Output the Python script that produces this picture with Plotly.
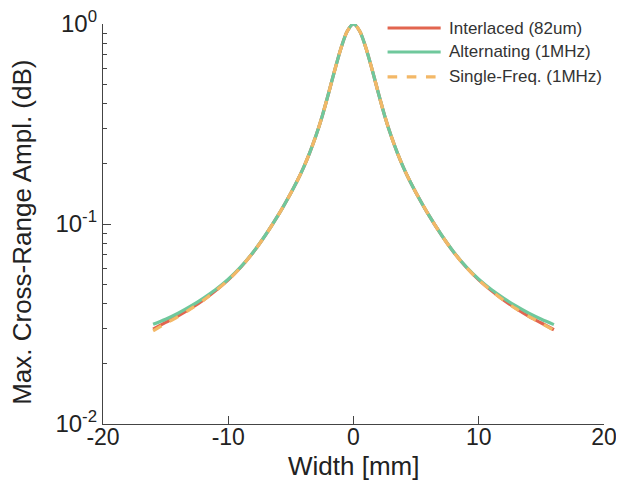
import plotly.graph_objects as go

# datos (ancho en mm, amplitud normalizada)
ancho = [-16, -15, -14, -13, -12, -11, -10, -9, -8, -7, -6, -5, -4.5, -4, -3.5, -3, -2.5, -2, -1.5, -1, -0.5,
         0, 0.5, 1, 1.5, 2, 2.5, 3, 3.5, 4, 4.5, 5, 6, 7, 8, 9, 10, 11, 12, 13, 14, 15, 16]

interlaced = [0.0298, 0.0322, 0.0347, 0.0378, 0.0416, 0.0465, 0.0526, 0.0608, 0.0723, 0.0885, 0.111, 0.143,
              0.164, 0.191, 0.227, 0.276, 0.346, 0.448, 0.587, 0.757, 0.920,
              1.0, 0.920, 0.757, 0.587, 0.448, 0.346, 0.276, 0.227, 0.191, 0.164, 0.143,
              0.111, 0.0885, 0.0723, 0.0608, 0.0526, 0.0465, 0.0416, 0.0377, 0.0345, 0.0320, 0.0296]

alternating = [0.0315, 0.0334, 0.0358, 0.0388, 0.0425, 0.0470, 0.0529, 0.0610, 0.0724, 0.0886, 0.111, 0.143,
               0.164, 0.191, 0.227, 0.276, 0.346, 0.448, 0.587, 0.757, 0.920,
               1.0, 0.920, 0.757, 0.587, 0.448, 0.346, 0.276, 0.227, 0.191, 0.164, 0.143,
               0.111, 0.0886, 0.0724, 0.0610, 0.0529, 0.0470, 0.0425, 0.0388, 0.0358, 0.0334, 0.0314]

single_freq = [0.0292, 0.0318, 0.0344, 0.0376, 0.0415, 0.0464, 0.0525, 0.0607, 0.0722, 0.0885, 0.111, 0.143,
               0.164, 0.191, 0.227, 0.276, 0.346, 0.448, 0.587, 0.757, 0.920,
               1.0, 0.920, 0.757, 0.587, 0.448, 0.346, 0.276, 0.227, 0.191, 0.164, 0.143,
               0.111, 0.0885, 0.0722, 0.0607, 0.0525, 0.0464, 0.0415, 0.0376, 0.0345, 0.0319, 0.0294]

series = [
    ("Interlaced (82um)", interlaced, "#E2654F", "solid"),
    ("Alternating (1MHz)", alternating, "#6FC89C", "solid"),
    ("Single-Freq. (1MHz)", single_freq, "#F3B867", "dash"),
]

x_ticks = [-20, -10, 0, 10, 20]
x_ticktext = ["-20", "-10", "0", "10", "20"]
y_ticks = [1, 0.1, 0.01]
y_ticktext = ["10<sup>0</sup>", "10<sup>-1</sup>", "10<sup>-2</sup>"]
y_minor = [0.02, 0.03, 0.04, 0.05, 0.06, 0.07, 0.08, 0.09, 0.2, 0.3, 0.4, 0.5, 0.6, 0.7, 0.8, 0.9]

fig = go.Figure()

for nombre, valores, color, estilo in series:
    fig.add_trace(go.Scatter(
        x=ancho, y=valores, mode="lines", name=nombre,
        line=dict(color=color, width=3.2, dash=estilo, shape="spline", smoothing=0.8),
        cliponaxis=False, showlegend=False,
    ))

# leyenda manual (lineas largas como en la original)
leg_y = [0.99, 0.93, 0.868]
for (nombre, valores, color, estilo), yy in zip(series, leg_y):
    fig.add_shape(type="line", xref="paper", yref="paper",
                  x0=0.568, x1=0.674, y0=yy, y1=yy,
                  line=dict(color=color, width=3.2, dash="dash" if estilo == "dash" else "solid"))
    fig.add_annotation(x=0.686, y=yy, xref="paper", yref="paper", text=nombre,
                       showarrow=False, xanchor="left", yanchor="middle",
                       font=dict(size=17, color="#333333"))

# titulos de ejes como anotaciones para controlar la posicion
fig.add_annotation(x=0.5, y=-0.105, xref="paper", yref="paper", text="Width [mm]",
                   showarrow=False, xanchor="center", yanchor="middle",
                   font=dict(size=26, color="#222222"))
fig.add_annotation(x=-0.162, y=0.48, xref="paper", yref="paper", text="Max. Cross-Range Ampl. (dB)",
                   showarrow=False, xanchor="center", yanchor="middle", textangle=-90,
                   font=dict(size=26, color="#222222"))

eje = dict(showline=True, linecolor="#444444", linewidth=1.4, ticks="inside",
           tickcolor="#444444", showgrid=False, zeroline=False, mirror=False, automargin=False,
           ticklabeloverflow="allow")

fig.update_xaxes(
    **eje, range=[-20, 20], tickvals=x_ticks, ticktext=x_ticktext, ticklen=8,
    ticklabelstandoff=-8,
    tickfont=dict(size=23, color="#222222"),
)
fig.update_yaxes(
    **eje, type="log", range=[-2, 0], tickvals=y_ticks, ticktext=y_ticktext, ticklen=8,
    minor=dict(ticks="inside", ticklen=4, tickvals=y_minor, tickcolor="#444444"),
    tickfont=dict(size=24, color="#222222"),
)

# la pagina agrega 8px de margen, por eso 616x476
fig.update_layout(
    width=616, height=476,
    margin=dict(l=95, r=20, t=16, b=60),
    plot_bgcolor="white", paper_bgcolor="white",
    font=dict(family="Liberation Sans, Arial, sans-serif"),
    showlegend=False,
)

fig.write_html("out.html")
